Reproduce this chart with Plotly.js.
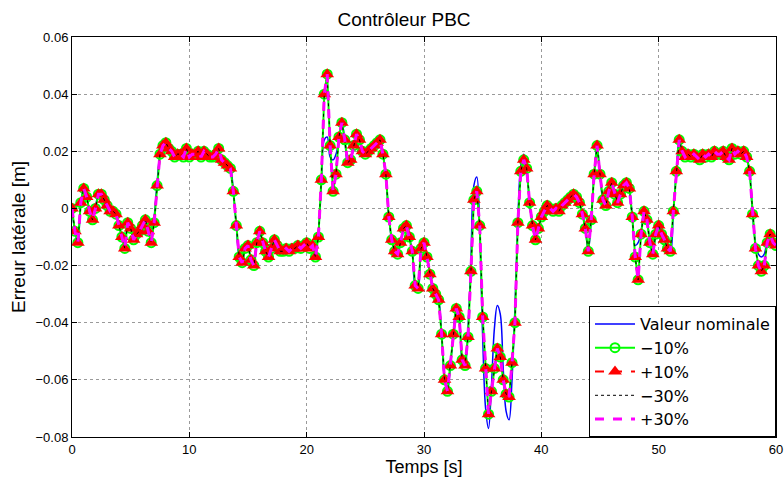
<!DOCTYPE html>
<html>
<head>
<meta charset="utf-8">
<script src="https://cdn.plot.ly/plotly-3.0.1.min.js"></script>
<style>
html,body{margin:0;padding:0;background:#fff;}
#chart{width:784px;height:477px;}
</style>
</head>
<body>
<div id="chart"></div>
<script>
// sample period of the recorded signals (s)
const tStep = 0.25;

// lateral error, +10% parameter variation (one row per second)
const plus10 = [
 0, -0.008, -0.012, 0.002,
 0.007, 0.004, -0.001, -0.004,
 0.000, 0.005, 0.005, 0.003,
 0.001, -0.001, -0.001, -0.002,
 -0.006, -0.010, -0.014, -0.005,
 -0.007, -0.011, -0.009, -0.008,
 -0.006, -0.004, -0.008, -0.012,
 -0.005, 0.008, 0.019, 0.022,
 0.023, 0.021, 0.020, 0.018,
 0.019, 0.019, 0.018, 0.021,
 0.018, 0.019, 0.019, 0.020,
 0.018, 0.020, 0.019, 0.018,
 0.018, 0.019, 0.021, 0.017,
 0.016, 0.015, 0.014, 0.006,
 -0.006, -0.017, -0.019, -0.014,
 -0.013, -0.018, -0.020, -0.012,
 -0.008, -0.012, -0.015, -0.017,
 -0.014, -0.011, -0.013, -0.015,
 -0.015, -0.014, -0.015, -0.014,
 -0.014, -0.013, -0.014, -0.013,
 -0.012, -0.014, -0.013, -0.017,
 -0.010, 0.010, 0.040, 0.047,
 0.022, 0.006, 0.012, 0.025,
 0.030, 0.024, 0.016, 0.017,
 0.022, 0.026, 0.024, 0.020,
 0.019, 0.020, 0.021, 0.022,
 0.023, 0.024, 0.019, 0.012,
 -0.003, -0.011, -0.015, -0.016,
 -0.012, -0.007, -0.006, -0.010,
 -0.015, -0.027, -0.028, -0.014,
 -0.012, -0.017, -0.023, -0.028,
 -0.030, -0.032, -0.044, -0.060,
 -0.064, -0.055, -0.044, -0.035,
 -0.038, -0.053, -0.055, -0.045,
 -0.022, 0.003, 0.006, -0.006,
 -0.038, -0.056, -0.072, -0.064,
 -0.056, -0.049, -0.052, -0.060,
 -0.065, -0.066, -0.054, -0.040,
 -0.005, 0.013, 0.017, 0.014,
 0.002, -0.006, -0.011, -0.007,
 -0.003, -0.001, 0.001, 0.000,
 -0.001, 0.000, -0.001, 0.001,
 0.002, 0.003, 0.004, 0.005,
 0.004, 0.002, -0.002, -0.007,
 -0.015, -0.004, 0.012, 0.022,
 0.012, 0.003, 0.001, 0.006,
 0.009, 0.005, 0.002, 0.005,
 0.008, 0.009, 0.007, -0.003,
 -0.017, -0.025, -0.009, -0.001,
 -0.004, -0.012, -0.016, -0.009,
 -0.006, -0.009, -0.011, -0.014,
 -0.015, -0.001, 0.013, 0.024,
 0.020, 0.018, 0.019, 0.018,
 0.019, 0.018, 0.017, 0.019,
 0.018, 0.019, 0.018, 0.020,
 0.019, 0.019, 0.020, 0.018,
 0.017, 0.021, 0.019, 0.020,
 0.019, 0.020, 0.018, 0.013,
 -0.002, -0.014, -0.020, -0.022,
 -0.020, -0.012, -0.009, -0.012,
 -0.013
];

// the -10%, -30% and +30% runs coincide with the +10% run at this scale
const minus10 = plus10.slice();
const minus30 = plus10.slice();
const plus30 = plus10.slice();

// nominal-parameter run
const nominal = [
 0, -0.008, -0.012, 0.002,
 0.007, 0.004, -0.001, -0.004,
 0.000, 0.005, 0.005, 0.003,
 0.001, -0.001, -0.001, -0.002,
 -0.006, -0.010, -0.014, -0.005,
 -0.007, -0.011, -0.009, -0.008,
 -0.006, -0.004, -0.008, -0.009,
 -0.003, 0.009, 0.019, 0.022,
 0.023, 0.021, 0.020, 0.018,
 0.019, 0.019, 0.018, 0.021,
 0.018, 0.019, 0.019, 0.020,
 0.018, 0.020, 0.019, 0.018,
 0.018, 0.019, 0.021, 0.017,
 0.016, 0.015, 0.014, 0.006,
 -0.006, -0.017, -0.019, -0.014,
 -0.013, -0.018, -0.020, -0.012,
 -0.008, -0.012, -0.015, -0.017,
 -0.014, -0.011, -0.013, -0.015,
 -0.015, -0.014, -0.015, -0.014,
 -0.014, -0.013, -0.014, -0.013,
 -0.012, -0.014, -0.014, -0.014,
 -0.008, 0.008, 0.024, 0.025,
 0.018, 0.017, 0.019, 0.024,
 0.030, 0.024, 0.016, 0.017,
 0.022, 0.026, 0.024, 0.020,
 0.019, 0.020, 0.021, 0.022,
 0.023, 0.024, 0.019, 0.012,
 -0.003, -0.011, -0.015, -0.016,
 -0.012, -0.007, -0.006, -0.010,
 -0.015, -0.027, -0.028, -0.014,
 -0.012, -0.017, -0.023, -0.028,
 -0.030, -0.032, -0.044, -0.060,
 -0.064, -0.055, -0.044, -0.035,
 -0.038, -0.053, -0.055, -0.042,
 -0.018, 0.008, 0.011, -0.008,
 -0.045, -0.070, -0.077, -0.062,
 -0.042, -0.034, -0.037, -0.056,
 -0.071, -0.074, -0.060, -0.035,
 -0.004, 0.015, 0.019, 0.014,
 0.002, -0.006, -0.011, -0.007,
 -0.003, -0.001, 0.001, 0.000,
 -0.001, 0.000, -0.001, 0.001,
 0.002, 0.003, 0.004, 0.005,
 0.004, 0.002, -0.002, -0.007,
 -0.015, -0.004, 0.012, 0.022,
 0.012, 0.003, 0.001, 0.006,
 0.009, 0.005, 0.002, 0.005,
 0.008, 0.009, 0.007, -0.003,
 -0.013, -0.012, -0.008, -0.002,
 -0.004, -0.012, -0.016, -0.009,
 -0.006, -0.009, -0.011, -0.014,
 -0.015, -0.001, 0.013, 0.024,
 0.020, 0.018, 0.019, 0.018,
 0.019, 0.018, 0.017, 0.019,
 0.018, 0.019, 0.018, 0.020,
 0.019, 0.019, 0.020, 0.018,
 0.017, 0.021, 0.019, 0.020,
 0.019, 0.020, 0.018, 0.013,
 -0.002, -0.012, -0.016, -0.017,
 -0.016, -0.011, -0.009, -0.012,
 -0.013
];

const seriesNames = ['Valeur nominale', '\u221210%', '+10%', '\u221230%', '+30%'];
const xTicks = [0, 10, 20, 30, 40, 50, 60];
const yTicks = [-0.08, -0.06, -0.04, -0.02, 0, 0.02, 0.04, 0.06];
const yTickText = ['\u22120.08', '\u22120.06', '\u22120.04', '\u22120.02', '0', '0.02', '0.04', '0.06'];

const time = plus10.map((_, i) => +(i * tStep).toFixed(2));

const traces = [
  {x: time, y: nominal, name: seriesNames[0], type: 'scatter', mode: 'lines',
   line: {color: '#0000ff', width: 1.5, shape: 'spline', smoothing: 1}},
  {x: time, y: minus10, name: seriesNames[1], type: 'scatter', mode: 'lines+markers',
   line: {color: '#00ff00', width: 2},
   marker: {symbol: 'circle-open', size: 9, color: '#00ff00', line: {color: '#00ff00', width: 2}}},
  {x: time, y: plus10, name: seriesNames[2], type: 'scatter', mode: 'lines+markers',
   line: {color: '#ff0000', width: 2, dash: 'dash'},
   marker: {symbol: 'triangle-up', size: 12, color: '#ff0000', line: {width: 0}}},
  {x: time, y: minus30, name: seriesNames[3], type: 'scatter', mode: 'lines',
   line: {color: '#000000', width: 1, dash: 'dot'}},
  {x: time, y: plus30, name: seriesNames[4], type: 'scatter', mode: 'lines',
   line: {color: '#ff00ff', width: 3, dash: 'dash'}}
];

const axisCommon = {
  showline: true, linecolor: '#000', linewidth: 1, mirror: 'ticks',
  ticks: 'inside', ticklen: 5, tickcolor: '#000', tickwidth: 1,
  showgrid: true, gridcolor: '#9a9a9a', griddash: 'dot', gridwidth: 1,
  zeroline: false,
  tickfont: {family: 'Liberation Sans, Arial, sans-serif', size: 13, color: '#000'}
};

const layout = {
  width: 784, height: 477,
  margin: {l: 72, r: 8, t: 37, b: 40},
  paper_bgcolor: '#fff', plot_bgcolor: '#fff',
  font: {family: 'Liberation Sans, Arial, sans-serif', color: '#000'},
  title: {text: 'Contrôleur PBC', font: {size: 19, color: '#000'},
          xref: 'container', x: 404 / 784, xanchor: 'center', y: 1 - 19 / 477, yanchor: 'middle'},
  xaxis: Object.assign({}, axisCommon, {
    range: [0, 60], tickvals: xTicks,
    title: {text: 'Temps [s]', font: {size: 18}, standoff: 2}
  }),
  yaxis: Object.assign({}, axisCommon, {
    range: [-0.08, 0.06], tickvals: yTicks, ticktext: yTickText,
    title: {text: 'Erreur latérale [m]', font: {size: 19}, standoff: 4}
  }),
  showlegend: true,
  legend: {
    x: 1, xanchor: 'right', y: 0, yanchor: 'bottom',
    bgcolor: '#fff', bordercolor: '#000', borderwidth: 1,
    font: {family: 'DejaVu Sans, sans-serif', size: 16, color: '#000'}, tracegroupgap: 0, itemwidth: 40
  }
};

Plotly.newPlot('chart', traces, layout, {displayModeBar: false, staticPlot: true});
</script>
</body>
</html>
